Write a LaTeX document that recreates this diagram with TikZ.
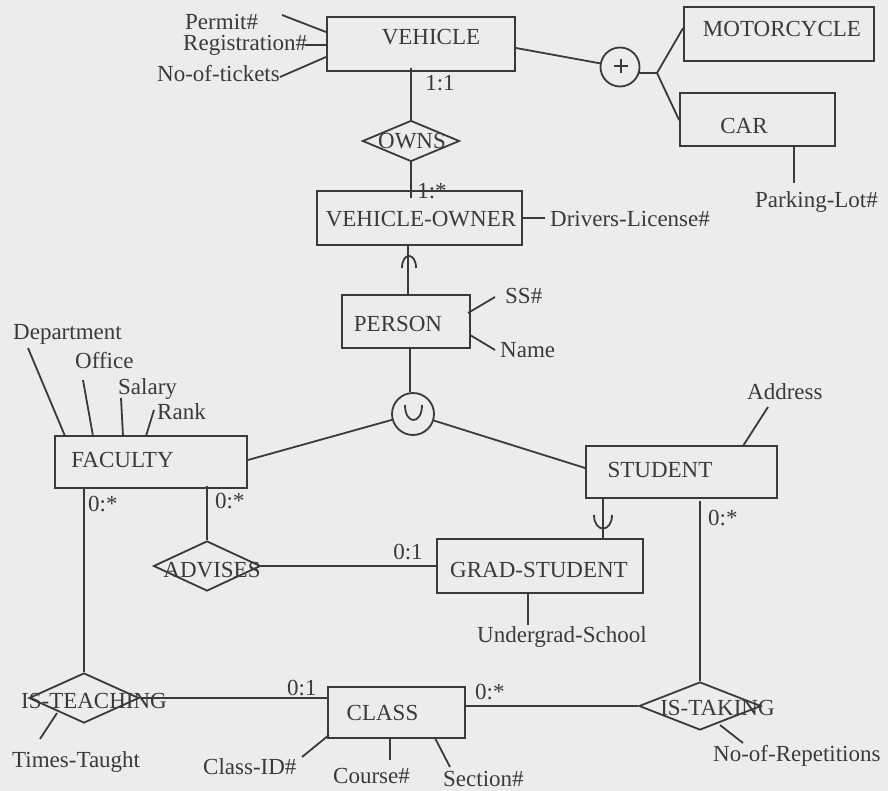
\documentclass[tikz,border=0pt]{standalone}
\usepackage{fontspec}
\setmainfont{Liberation Serif}
\usetikzlibrary{shapes.geometric}
\definecolor{paper}{RGB}{236,236,234}
\definecolor{ink}{RGB}{58,58,58}
\begin{document}
\begin{tikzpicture}[x=1pt,y=-1pt,
  line/.style={draw=ink, line width=1.8pt},
  ent/.style={draw=ink, line width=1.8pt, rectangle, inner sep=0pt},
  rel/.style={draw=ink, line width=1.8pt, diamond, inner sep=0pt},
  gen/.style={draw=ink, line width=1.8pt, circle, inner sep=0pt},
  txt/.style={inner sep=0pt, text=ink, font=\fontsize{23}{26}\selectfont, text height=15.2pt, text depth=0pt},
  att/.style={txt, anchor=west}]
\useasboundingbox (0,0) rectangle (888,791);
\fill[paper] (0,0) rectangle (888,791);

% ---------- entities, relationships and category circles ----------
\node[ent, minimum width=188pt, minimum height=54pt] (vehicle) at (421,44) {};
\node[txt] (vehicle-t) at (431,36.5) {VEHICLE};
\node[ent, minimum width=190pt, minimum height=54pt] (moto) at (779,34) {};
\node[txt] (moto-t) at (782,29) {MOTORCYCLE};
\node[ent, minimum width=155pt, minimum height=53pt] (car) at (757.5,119.5) {};
\node[txt] (car-t) at (744,126) {CAR};
\node[gen, minimum size=39pt] (disj) at (620,67) {};
\node[rel, minimum width=97pt, minimum height=41pt] (owns) at (411,141) {};
\node[txt] (owns-t) at (412,141) {OWNS};
\node[ent, minimum width=205pt, minimum height=54pt] (vo) at (419.5,218) {};
\node[txt] (vo-t) at (421,219) {VEHICLE-OWNER};
\node[ent, minimum width=128pt, minimum height=53pt] (person) at (406,321.5) {};
\node[txt] (person-t) at (398,323.5) {PERSON};
\node[gen, minimum size=42pt] (union) at (413,414) {};
\node[ent, minimum width=192pt, minimum height=52pt] (faculty) at (151,462) {};
\node[txt] (faculty-t) at (122.5,460) {FACULTY};
\node[ent, minimum width=191pt, minimum height=52pt] (student) at (681.5,472) {};
\node[txt] (student-t) at (660,470) {STUDENT};
\node[rel, minimum width=107pt, minimum height=50pt] (advises) at (207,566) {};
\node[txt] (advises-t) at (212,570) {ADVISES};
\node[ent, minimum width=206pt, minimum height=54pt] (grad) at (540,566) {};
\node[txt] (grad-t) at (539,570) {GRAD-STUDENT};
\node[rel, minimum width=110pt, minimum height=50pt] (teach) at (84,698) {};
\node[txt] (teach-t) at (94,700.5) {IS-TEACHING};
\node[ent, minimum width=137pt, minimum height=51pt] (class) at (396.5,712.5) {};
\node[txt] (class-t) at (382.5,712.5) {CLASS};
\node[rel, minimum width=122pt, minimum height=48pt] (take) at (700,706) {};
\node[txt] (take-t) at (717.5,707.5) {IS-TAKING};

% ---------- attributes ----------
\node[att] (permit) at (185,21.5) {Permit\#};
\node[att] (regno) at (183,43) {Registration\#};
\node[att] (tickets) at (157,74) {No-of-tickets};
\node[att] (license) at (550,219) {Drivers-License\#};
\node[att] (lot) at (755,200) {Parking-Lot\#};
\node[att] (ssn) at (505,296) {SS\#};
\node[att] (name) at (500,349.5) {Name};
\node[att] (dept) at (13,331.5) {Department};
\node[att] (office) at (75,360.5) {Office};
\node[att] (salary) at (118,386.5) {Salary};
\node[att] (rank) at (157,411.5) {Rank};
\node[att] (address) at (747,392) {Address};
\node[att] (school) at (477,634.5) {Undergrad-School};
\node[att] (reps) at (713,753.5) {No-of-Repetitions};
\node[att] (times) at (12,759.5) {Times-Taught};
\node[att] (classid) at (203,766.5) {Class-ID\#};
\node[att] (course) at (333,775.5) {Course\#};
\node[att] (section) at (443,779) {Section\#};

% ---------- cardinalities ----------
\node[txt] (c1) at (440,83) {1:1};
\node[txt] (c2) at (432,191) {1:*};
\node[att] (c3) at (88,504) {0:*};
\node[att] (c4) at (215,501) {0:*};
\node[txt] (c5) at (408,551.5) {0:1};
\node[att] (c6) at (708,517.5) {0:*};
\node[att] (c7) at (475,692) {0:*};
\node[att] (c8) at (287,687.5) {0:1};

% ---------- free ends of attribute lines ----------
\coordinate (p1) at (282,15);   \coordinate (p1b) at (326,32);
\coordinate (p2) at (305,45);   \coordinate (p2b) at (327,45);
\coordinate (p3) at (280,77);   \coordinate (p3b) at (326,57);
\coordinate (p4) at (545,218);
\coordinate (p5) at (794,183);
\coordinate (p6) at (495,297);  \coordinate (p6b) at (468,313);
\coordinate (p7) at (495,350);  \coordinate (p7b) at (470,335);
\coordinate (p8) at (28,348);   \coordinate (p8b) at (65,436);
\coordinate (p9) at (83,380);   \coordinate (p9b) at (93,436);
\coordinate (p10) at (121,398); \coordinate (p10b) at (123,436);
\coordinate (p11) at (154,410); \coordinate (p11b) at (146,436);
\coordinate (p12) at (768,407); \coordinate (p12b) at (743,446);
\coordinate (p13) at (528,625);
\coordinate (p14) at (743,743); \coordinate (p14b) at (720,725);
\coordinate (p15) at (40,739);  \coordinate (p15b) at (57,713);
\coordinate (p16) at (302,757); \coordinate (p16b) at (329,735);
\coordinate (p17) at (390,760);
\coordinate (p18) at (450,767); \coordinate (p18b) at (435,738);
\coordinate (br) at (657,73);

% ---------- attribute lines ----------
\draw[line] (p1) -- (p1b);
\draw[line] (p2) -- (p2b);
\draw[line] (p3) -- (p3b);
\draw[line] (vo.east |- p4) -- (p4);
\draw[line] (car.south -| p5) -- (p5);
\draw[line] (p6) -- (p6b);
\draw[line] (p7) -- (p7b);
\draw[line] (p8) -- (p8b);
\draw[line] (p9) -- (p9b);
\draw[line] (p10) -- (p10b);
\draw[line] (p11) -- (p11b);
\draw[line] (p12) -- (p12b);
\draw[line] (grad.south -| p13) -- (p13);
\draw[line] (p14) -- (p14b);
\draw[line] (p15) -- (p15b);
\draw[line] (p16) -- (p16b);
\draw[line] (class.south -| p17) -- (p17);
\draw[line] (p18) -- (p18b);

% ---------- relationship and category connectors ----------
\draw[line] ([yshift=4pt]owns.north |- vehicle.south) -- (owns.north);
\draw[line] (owns.south) -- ([yshift=-8pt]owns.south |- vo.north);
\draw[line] (vo.south -| 408,0) -- (person.north -| 408,0);
\draw[line] (402,268) .. controls (402,252) and (416,252) .. (416,268);
\draw[line] (person.south -| 410,0) -- (union.north -| 410,0);
\draw[line] (405,405) .. controls (405,425) and (422,425) .. (422,405);
\draw[line] (faculty.east |- 0,460) -- (union);
\draw[line] (student.west |- 0,468) -- (union);

\draw[line] (vehicle.east |- 0,48) -- (disj);
\draw[line] (621,59) -- (621,73) (614,66) -- (628,66);
\draw[line] (638.5,73) -- (br);
\draw[line] (br) -- (moto.west |- 0,28);
\draw[line] (br) -- (car.west |- 0,120);

\draw[line] (faculty.south -| teach.north) -- (teach.north);
\draw[line] ([yshift=3pt]faculty.south -| advises.north) -- (advises.north);
\draw[line] (advises.east) -- (advises.east -| grad.west);
\draw[line] (student.south -| 603,0) -- (grad.north -| 603,0);
\draw[line] (594,515) .. controls (594,533) and (612,533) .. (612,515);
\draw[line] ([yshift=-2pt]student.south -| take.north) -- (take.north);
\draw[line] (teach.east) -- (teach.east -| class.west);
\draw[line] (class.east |- take.west) -- (take.west);
\end{tikzpicture}
\end{document}
